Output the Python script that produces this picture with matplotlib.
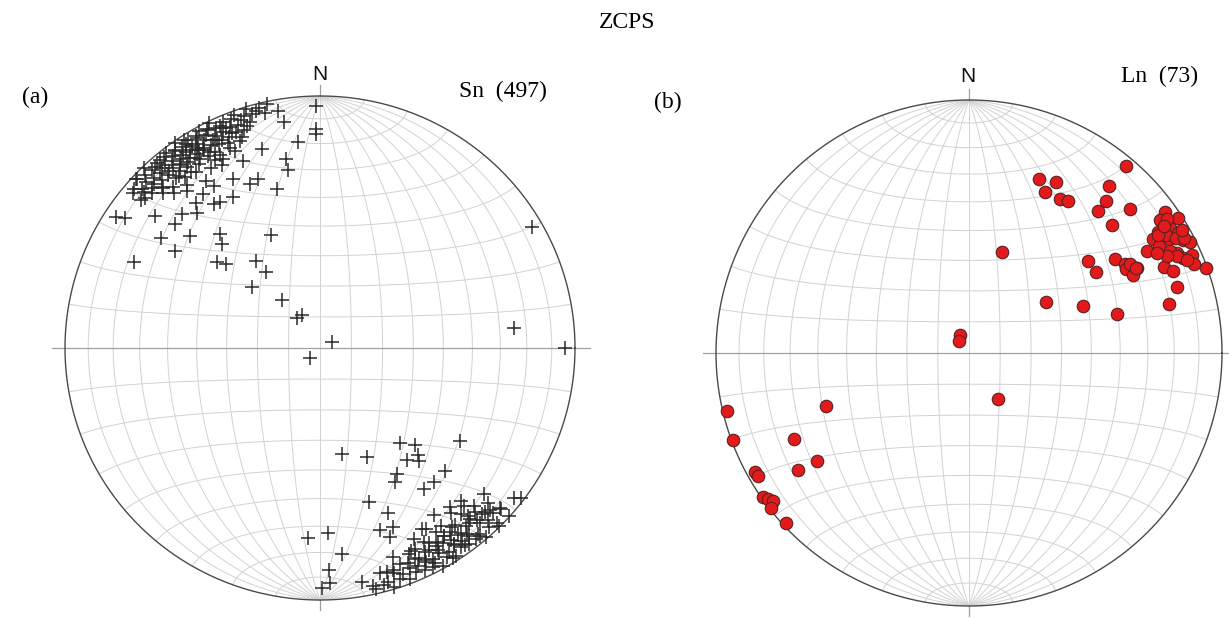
import numpy as np
import matplotlib
matplotlib.use("Agg")
import matplotlib.pyplot as plt

# ---------------- data (trend, plunge in degrees) ----------------
# (a) Sn poles: scattered individual readings
sn_trend_single = [348, 350, 351, 359, 359, 359, 354, 350, 350, 344, 340, 337, 345, 337, 324, 325,
                   319, 317, 310, 312, 311, 304, 305, 295, 309, 303, 304, 310, 311, 313, 311, 311,
                   314.5, 318, 324, 326, 330.5, 323, 333, 327, 320, 312, 322, 323, 332, 225, 63,
                   60, 84, 90]
sn_plunge_single = [1, 5, 10, 4.5, 14, 16, 19, 25, 29, 19, 29.5, 30, 35, 49.6, 55, 60,
                    40, 43, 46, 49, 33, 32, 25, 20.6, 18, 5.3, 8.7, 9.4, 10, 1.8, 4, 25.8,
                    25.3, 28.6, 30, 30.8, 31.6, 24.6, 25.8, 24.4, 25.6, 60.5, 70.3, 77.8, 78, 85.4, 85.7,
                    4.6, 24.6, 4.5]
# (a) Sn poles: dense NW maximum
sn_trend_nw = [313, 316, 319, 322, 325, 328, 331, 334, 337, 340, 343, 346,
               310, 314, 317, 320, 323, 326, 329, 332, 335, 338, 341, 344, 347,
               312, 315, 318, 321, 324, 327, 330, 333, 336, 339, 342,
               313, 316, 319, 322, 325, 328, 331, 334, 337, 340,
               315, 318, 321, 324, 327, 330, 333, 336, 339,
               317, 321, 325, 329, 333, 337,
               320, 326, 332, 338,
               320, 324, 327, 330, 333, 336, 326, 329, 323, 327, 330, 334, 322, 331,
               315, 318, 321, 324, 327, 330, 333, 336, 339, 342, 345,
               312, 316, 319, 322, 325, 328, 331, 334, 337, 340, 343,
               314, 317, 320, 323, 326, 329, 332, 335, 338, 341,
               316, 320, 324, 328, 332, 336]
sn_plunge_nw = [2, 1, 3, 2, 1, 3, 2, 1, 3, 2, 1, 2,
                5, 6, 4, 6, 5, 4, 6, 5, 4, 6, 5, 4, 5,
                8, 9, 7, 9, 8, 7, 9, 8, 7, 9, 8,
                11, 12, 10, 12, 11, 10, 12, 11, 10, 12,
                14, 15, 13, 15, 14, 13, 15, 14, 13,
                17, 18, 16, 18, 17, 16,
                20, 21, 19, 21,
                3, 4, 2, 4, 3, 5, 7, 8, 10, 11, 10, 9, 15, 16,
                3.5, 4, 3, 3.5, 4, 3, 3.5, 4, 3, 3.5, 3,
                6.5, 7, 6, 6.5, 7, 6, 6.5, 7, 6, 6.5, 7,
                9.5, 10, 9, 9.5, 10, 9, 9.5, 10, 9, 9.5,
                12.5, 13, 12, 12.5, 13, 12]
# (a) Sn poles: SE readings
sn_trend_se = [140, 136, 124, 168.5, 157, 142.5, 138, 139, 149, 151, 135, 144, 140, 162.6, 132, 128,
               127, 137.7, 132, 132, 158, 162, 158, 160, 177.6, 183.6, 174, 177.7, 177.6, 179.5, 170,
               167.6, 165.3, 163.5, 161, 135.3, 135.2,
               135, 139, 143, 147, 151, 155, 159, 163, 167,
               132, 136, 140, 144, 148, 152, 156, 160, 164,
               134, 138, 142, 146, 150, 154, 158, 162,
               133, 137, 141, 145, 149, 153, 157,
               136, 140, 144, 148, 152, 156,
               138, 142, 146, 150, 154,
               141, 146, 151,
               140, 144, 148, 152, 146, 150, 143, 139, 155, 147,
               137, 141, 145, 149, 153, 157, 161, 165,
               134, 138, 142, 146, 150, 154, 158, 162,
               136, 140, 144, 148, 152, 156, 160,
               139, 143, 147, 151, 155]
sn_plunge_se = [49.4, 45.5, 34.3, 54.6, 51.3, 43.3, 42.2, 40.4, 41.1, 38.9, 31.4, 31.3, 31, 36.2, 14.3, 4,
                1.5, 19, 5.6, 0.5, 30, 25, 24.4, 21.2, 27.4, 25.5, 19, 12.8, 7.4, 5.3, 6.4,
                3.7, 8.5, 8, 13.4, 0.5, 9,
                2, 1, 3, 2, 1, 3, 2, 1, 2,
                5, 6, 4, 6, 5, 4, 6, 5, 4,
                8, 9, 7, 9, 8, 7, 9, 8,
                11, 12, 10, 12, 11, 10, 12,
                14, 15, 13, 15, 14, 13,
                17, 18, 16, 18, 17,
                20, 21, 19,
                3, 4, 2, 6, 7, 10, 9, 11, 9, 12,
                3.5, 3, 4, 3.5, 3, 4, 3.5, 3,
                6.5, 7, 6, 6.5, 7, 6, 6.5, 7,
                9.5, 10, 9, 9.5, 10, 9, 9.5,
                12.5, 13, 12, 12.5, 13]

# (b) Ln lineations
ln_trend = [40, 21.9, 27, 25.3, 30.6, 33, 40, 42, 42.3, 48.2, 48.2, 18, 54.3, 57.1, 55.1, 58.1,
            57.4, 60.2, 58.2, 60.3, 62.1, 63.3, 60.6, 60.2, 52.2, 57.2, 60.3, 63.2, 61.9, 64.6, 57.5,
            64.3, 66.1, 66.3, 68.4, 66.2, 68.1, 70.2, 72.4, 56.4, 67.6, 75.3, 76.2,
            333, 320, 147.7,
            256.5, 249.7, 249.7, 243.8, 234.6, 235.7, 240.9, 239.8, 235, 234, 233, 232, 227.1,
            56, 59, 61, 63, 62, 65, 58, 60, 67, 64, 57, 62, 61, 63]
ln_plunge = [3.9, 26.7, 25.2, 30.4, 30, 29.1, 15, 20.2, 25.2, 15.8, 25.2, 55.5, 5.2, 1.8, 8.9, 7.2,
             12.3, 5.4, 15.5, 9.9, 4.9, 2.5, 14.9, 20, 40.3, 31.9, 29.7, 26.5, 30.3, 29, 40.2,
             9.7, 8.3, 4.2, 5, 16.8, 14.2, 0.5, 14.9, 60.1, 49.6, 39.4, 19.8,
             83.5, 84.9, 72.5,
             1.8, 0.5, 39.6, 24, 27.2, 19.2, 3.6, 3.9, 0.8, 2.1, 3.3, 0.7, 1.5,
             6, 10, 7, 12, 4, 10, 13, 3, 7, 14, 9, 17, 28, 27]

title = "ZCPS"
labels = ["(a)", "(b)"]
set_names = ["Sn  (497)", "Ln  (73)"]


# ---------------- helpers ----------------
def project(trend, plunge):
    t = np.radians(np.asarray(trend, float))
    p = np.radians(np.asarray(plunge, float))
    r = np.sqrt(1.0 - np.sin(p))
    return r * np.sin(t), r * np.cos(t)


def vec_project(vx, vy, vz):
    f = 1.0 / np.sqrt(1.0 - vz)
    return vx * f, vy * f


def draw_net(ax):
    grid_c = "#d2d2d2"
    s = np.linspace(0, np.pi, 181)
    # great circles through N and S poles
    for d in range(10, 90, 10):
        dr = np.radians(d)
        for sgn in (1, -1):
            vx = np.sin(s) * sgn * np.cos(dr)
            vy = np.cos(s)
            vz = -np.sin(s) * np.sin(dr)
            x, y = vec_project(vx, vy, vz)
            ax.plot(x, y, color=grid_c, lw=0.7, zorder=1)
    ax.plot([0, 0], [-1, 1], color=grid_c, lw=0.7, zorder=1)
    # small circles about the N-S axis
    phi = np.linspace(np.pi, 2 * np.pi, 181)
    for a in range(10, 180, 10):
        if a == 90:
            continue
        ar = np.radians(a)
        vx = np.sin(ar) * np.cos(phi)
        vy = np.cos(ar) * np.ones_like(phi)
        vz = np.sin(ar) * np.sin(phi)
        x, y = vec_project(vx, vy, vz)
        ax.plot(x, y, color=grid_c, lw=0.7, zorder=1)
    # E-W line and ticks
    ax.plot([-1.05, 1.06], [0, 0], color="#a0a0a0", lw=0.9, zorder=2)
    ax.plot([0, 0], [1.0, 1.045], color="#a0a0a0", lw=0.9, zorder=2)
    ax.plot([0, 0], [-1.0, -1.04], color="#a0a0a0", lw=0.9, zorder=2)
    # primitive
    th = np.linspace(0, 2 * np.pi, 721)
    ax.plot(np.cos(th), np.sin(th), color="#4a4a4a", lw=1.0, zorder=3)


W, H = 1229, 618
fig = plt.figure(figsize=(W / 100, H / 100), dpi=100)
L = 1.12


def make_ax(cx, cy, rx, ry):
    return fig.add_axes([(cx - L * rx) / W, (H - cy - L * ry) / H,
                         2 * L * rx / W, 2 * L * ry / H])


axa = make_ax(320, 348, 255, 252)
axb = make_ax(969, 353, 253, 253)
for ax in (axa, axb):
    ax.set_xlim(-L, L)
    ax.set_ylim(-L, L)
    ax.axis("off")
    draw_net(ax)

fig.text(320 / W, 1 - 75 / H, "N", ha="center", va="center", fontsize=15,
         family="Liberation Sans", color="#111111")
fig.text(968 / W, 1 - 76 / H, "N", ha="center", va="center", fontsize=15,
         family="Liberation Sans", color="#111111")

sn_trend = sn_trend_single + sn_trend_nw + sn_trend_se
sn_plunge = sn_plunge_single + sn_plunge_nw + sn_plunge_se
x, y = project(sn_trend, sn_plunge)
axa.plot(x, y, linestyle="none", marker="+", markersize=9.5, mew=1.1,
         color="#2a2a2a", zorder=5)

x, y = project(ln_trend, ln_plunge)
axb.plot(x, y, linestyle="none", marker="o", markersize=9, mew=0.8,
         markerfacecolor="#e31a1c", markeredgecolor="#5a2020", zorder=5)

serif = "Liberation Serif"
fig.text(627 / W, 1 - 22 / H, title, ha="center", va="center", fontsize=17, family=serif)
fig.text(35 / W, 1 - 97 / H, labels[0], ha="center", va="center", fontsize=17, family=serif)
fig.text(503 / W, 1 - 91 / H, set_names[0], ha="center", va="center", fontsize=17, family=serif)
fig.text(668 / W, 1 - 102 / H, labels[1], ha="center", va="center", fontsize=17, family=serif)
fig.text(1160 / W, 1 - 76 / H, set_names[1], ha="center", va="center", fontsize=17, family=serif)

fig.savefig("out.png", dpi=100)
